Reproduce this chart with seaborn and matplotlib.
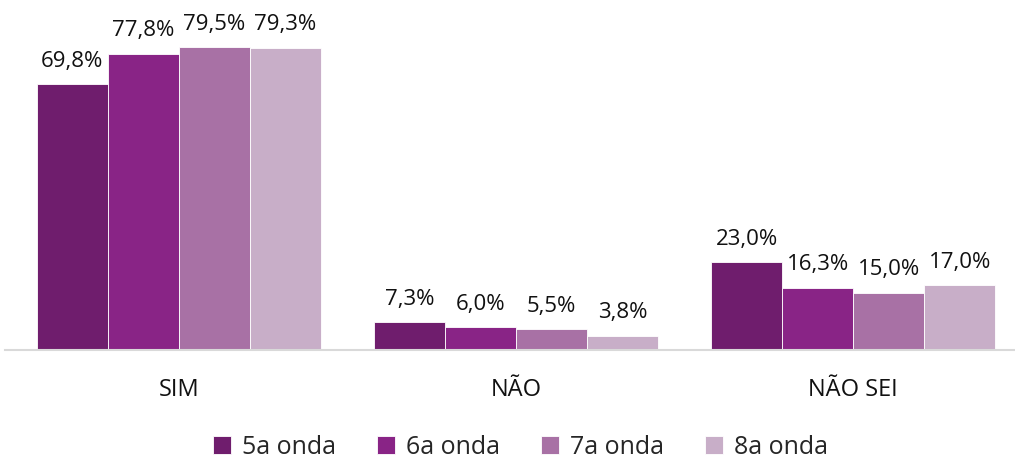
import matplotlib
matplotlib.use("Agg")
import matplotlib.pyplot as plt
import seaborn as sns
import pandas as pd

categories = ["SIM", "NÃO", "NÃO SEI"]
series = ["5a onda", "6a onda", "7a onda", "8a onda"]
v5 = [69.8, 7.3, 23.0]
v6 = [77.8, 6.0, 16.3]
v7 = [79.5, 5.5, 15.0]
v8 = [79.3, 3.8, 17.0]
colors = ["#6F1D6D", "#892486", "#A871A5", "#C8AEC8"]

rows = []
for s, vals in zip(series, [v5, v6, v7, v8]):
    for c, v in zip(categories, vals):
        rows.append({"cat": c, "serie": s, "val": v})
df = pd.DataFrame(rows)

sns.set_style("white")
plt.rcParams['font.family'] = ['Open Sans', 'DejaVu Sans']

fig = plt.figure(figsize=(10.15, 4.59), dpi=100)
ax = fig.add_axes([5/1015, 1 - 350/459, 1 - 5/1015, 350/459])
sns.barplot(data=df, x="cat", y="val", hue="serie", palette=colors,
            saturation=1, width=0.843, edgecolor="white", linewidth=0.6,
            ax=ax, legend=True)

for cont in ax.containers:
    labels = [f"{b.get_height():.1f}%".replace(".", ",") for b in cont]
    ax.bar_label(cont, labels=labels, padding=9, fontsize=16, color="#111111")

ax.set_xlim(-0.515, 2.48)
ax.set_ylim(0, 350/3.81)
ax.set_xlabel("")
ax.set_ylabel("")
ax.set_yticks([])
ax.tick_params(axis="x", length=0, labelsize=17, pad=20, colors="#111111")
for sp in ["top", "right", "left"]:
    ax.spines[sp].set_visible(False)
ax.spines["bottom"].set_color("#D9D9D9")
ax.spines["bottom"].set_linewidth(1.5)

handles, labels = ax.get_legend_handles_labels()
ax.legend(handles, labels, loc="center", bbox_to_anchor=(0.513, 1 - 447/459),
          bbox_transform=fig.transFigure, ncol=4, frameon=False, fontsize=18,
          handlelength=0.7, handleheight=0.7, handletextpad=0.45, columnspacing=1.65)

fig.savefig("out.png", dpi=100)
